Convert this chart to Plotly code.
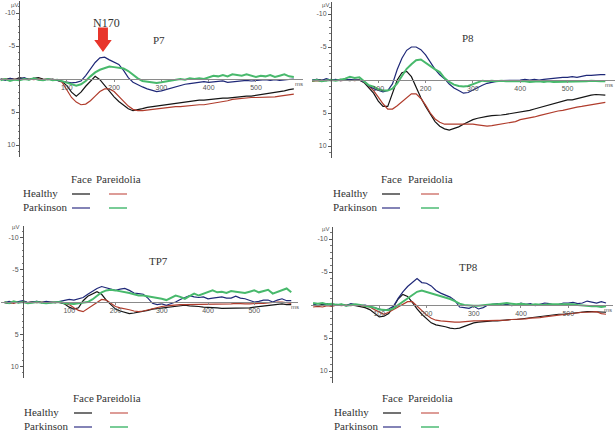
import plotly.graph_objects as go

# ---------------- data (µV, negative plotted upward) ----------------
TIME_MS = [-40, -30, -20, -10, 0, 10, 20, 30, 40, 50,
           60, 70, 80, 90, 100, 110, 120, 130, 140, 150,
           160, 170, 180, 190, 200, 210, 220, 230, 240, 250,
           260, 270, 280, 290, 300, 310, 320, 330, 340, 350,
           360, 370, 380, 390, 400, 410, 420, 430, 440, 450,
           460, 470, 480, 490, 500, 510, 520, 530, 540, 550,
           560, 570, 580]

SERIES_NAMES = ["Healthy Face", "Healthy Pareidolia", "Parkinson Face", "Parkinson Pareidolia"]
GROUPS = ["Healthy", "Parkinson"]
CONDITIONS = ["Face", "Pareidolia"]
PANEL_TITLES = ["P7", "P8", "TP7", "TP8"]
Y_TICKS = [-10, -5, 5, 10]
X_TICKS = [100, 200, 300, 400, 500]

P7_HEALTHY_FACE = [0.0, 0.1, -0.1, 0.1, -0.2, 0.0, 0.1, -0.1, -0.2, 0.0,
                   0.1, 0.0, 0.2, 0.4, 1.0, 2.0, 2.6, 2.0, 1.1, 0.3,
                   -0.4, 0.1, 1.0, 1.9, 2.7, 3.4, 4.0, 4.5, 4.8, 4.7,
                   4.5, 4.3, 4.2, 4.0, 3.9, 3.8, 3.7, 3.6, 3.5, 3.4,
                   3.3, 3.3, 3.2, 3.2, 3.1, 3.1, 3.0, 2.9, 2.9, 2.8,
                   2.7, 2.7, 2.6, 2.6, 2.5, 2.4, 2.3, 2.2, 2.1, 1.9,
                   1.8, 1.6, 1.5]
P7_HEALTHY_PAREIDOLIA = [0.1, 0.0, 0.1, 0.0, 0.1, -0.1, 0.0, 0.1, 0.0, 0.1,
                         0.0, 0.1, 0.2, 0.5, 1.6, 2.8, 3.5, 3.9, 3.8, 3.3,
                         2.6, 1.9, 1.5, 1.5, 1.9, 2.6, 3.4, 4.1, 4.6, 4.8,
                         4.8, 4.7, 4.6, 4.5, 4.4, 4.3, 4.3, 4.2, 4.2, 4.1,
                         4.0, 4.0, 3.9, 3.9, 3.8, 3.7, 3.6, 3.4, 3.3, 3.1,
                         3.0, 2.9, 2.9, 2.8, 2.8, 2.8, 2.8, 2.7, 2.7, 2.6,
                         2.5, 2.4, 2.3]
P7_PARKINSON_FACE = [0.0, 0.2, -0.1, 0.1, 0.0, -0.2, 0.1, -0.1, 0.1, 0.2,
                     0.0, 0.1, 0.2, 0.3, 0.5, 0.6, 0.5, 0.3, -0.5, -1.5,
                     -2.5, -3.2, -3.3, -2.9, -2.5, -2.2, -1.3, -0.2, 0.5, 0.9,
                     1.2, 1.5, 1.7, 1.9, 1.8, 1.6, 1.3, 1.1, 1.0, 0.8,
                     0.7, 0.6, 0.5, 0.4, 0.5, 0.4, 0.4, 0.3, 0.5, 0.4,
                     0.3, 0.3, 0.2, 0.3, 0.2, 0.2, 0.1, 0.2, 0.1, 0.2,
                     0.1, 0.0, 0.0]
P7_PARKINSON_PAREIDOLIA = [0.2, 0.0, 0.3, 0.1, 0.2, 0.0, 0.1, -0.1, 0.1, 0.2,
                           0.0, 0.2, 0.1, 0.3, 0.5, 0.7, 1.0, 0.8, 0.3, -0.4,
                           -1.0, -1.4, -1.7, -1.9, -1.8, -1.7, -1.6, -1.2, -0.6, -0.1,
                           0.3, 0.4, 0.5, 0.6, 0.5, 0.4, 0.3, 0.2, 0.0, 0.1,
                           -0.1, 0.0, -0.1, 0.0, -0.3, -0.5, -0.4, -0.6, -0.4, -0.7,
                           -0.6, -0.5, -0.7, -0.5, -0.3, -0.5, -0.4, -0.6, -0.3, -0.5,
                           -0.7, -0.4, -0.3]

P8_HEALTHY_FACE = [0.1, -0.1, 0.0, 0.1, -0.1, 0.0, -0.1, 0.0, 0.1, 0.0,
                   0.0, 0.4, 1.2, 2.0, 3.2, 4.0, 4.0, 2.0, 0.0, -1.1,
                   -1.3, -0.5, 1.2, 2.7, 4.0, 5.2, 6.3, 7.0, 7.4, 7.6,
                   7.4, 7.1, 6.7, 6.3, 6.0, 5.8, 5.6, 5.5, 5.4, 5.4,
                   5.3, 5.2, 5.1, 5.0, 4.9, 4.8, 4.6, 4.4, 4.2, 4.0,
                   3.7, 3.5, 3.3, 3.2, 3.0, 3.0, 2.8, 2.6, 2.4, 2.3,
                   2.2, 2.3, 2.3]
P8_HEALTHY_PAREIDOLIA = [0.2, 0.1, 0.2, 0.0, 0.1, 0.0, 0.1, 0.0, 0.0, 0.1,
                         0.0, 0.3, 0.9, 1.6, 2.6, 3.6, 4.4, 4.4, 3.9, 3.3,
                         2.6, 2.1, 2.1, 2.8, 3.8, 5.0, 5.9, 6.4, 6.7, 6.7,
                         6.7, 6.6, 6.7, 6.6, 6.7, 6.8, 6.9, 7.0, 6.9, 6.8,
                         6.6, 6.5, 6.4, 6.3, 6.0, 5.9, 5.8, 5.6, 5.4, 5.2,
                         5.0, 4.9, 4.7, 4.6, 4.4, 4.3, 4.1, 4.0, 3.9, 3.8,
                         3.6, 3.5, 3.4]
P8_PARKINSON_FACE = [0.0, -0.1, 0.1, -0.2, 0.0, -0.1, 0.1, 0.0, -0.1, 0.0,
                     0.0, 0.3, 0.9, 1.3, 1.6, 1.8, 1.6, 0.6, -1.6, -3.3,
                     -4.5, -5.0, -5.0, -4.6, -3.8, -2.7, -1.6, -0.8, -0.2, 0.6,
                     1.2, 1.6, 2.0, 1.9, 1.5, 1.1, 0.8, 0.5, 0.3, 0.2,
                     0.1, 0.1, 0.0, 0.1, 0.0, -0.1, 0.0, -0.1, 0.0, -0.1,
                     -0.2, -0.3, -0.3, -0.4, -0.4, -0.5, -0.4, -0.6, -0.7, -0.7,
                     -0.8, -0.8, -0.8]
P8_PARKINSON_PAREIDOLIA = [0.1, 0.0, 0.2, 0.1, 0.0, 0.1, 0.0, -0.2, -0.5, -0.3,
                           -0.4, 0.2, 0.8, 1.0, 1.4, 1.6, 1.6, 1.3, 0.5, -0.6,
                           -1.7, -2.4, -3.0, -3.1, -2.6, -2.0, -1.6, -1.2, -0.3, 0.3,
                           0.7, 0.9, 1.0, 0.9, 0.6, 0.4, 0.1, 0.2, 0.1, 0.2,
                           0.1, 0.2, 0.2, 0.1, 0.2, 0.2, 0.3, 0.2, 0.2, 0.3,
                           0.2, 0.3, 0.3, 0.2, 0.3, 0.2, 0.3, 0.2, 0.2, 0.1,
                           0.2, 0.2, 0.2]

TP7_HEALTHY_FACE = [0.1, 0.2, 0.0, 0.1, -0.1, 0.1, 0.0, -0.1, 0.1, 0.0,
                    0.1, 0.0, 0.1, 0.3, 0.8, 1.1, 0.9, -0.2, -0.9, -1.3,
                    -1.6, -1.2, -0.3, 0.4, 1.1, 1.4, 1.6, 1.8, 1.7, 1.6,
                    1.4, 1.3, 1.1, 1.0, 0.9, 0.8, 0.7, 0.6, 0.5, 0.5,
                    0.6, 0.6, 0.7, 0.8, 0.8, 0.9, 0.9, 1.0, 1.0, 1.0,
                    1.0, 0.9, 0.9, 0.9, 0.8, 0.7, 0.7, 0.6, 0.5, 0.4,
                    0.3, 0.4, 0.4]
TP7_HEALTHY_PAREIDOLIA = [0.0, 0.1, 0.2, 0.0, 0.1, 0.1, 0.0, 0.1, 0.0, 0.1,
                          0.0, 0.1, 0.0, 0.2, 0.4, 0.9, 1.3, 1.5, 1.0, 0.5,
                          0.1, -0.4, -0.3, 0.2, 0.7, 0.9, 1.0, 1.2, 1.4, 1.5,
                          1.4, 1.2, 1.0, 0.8, 0.7, 0.6, 0.5, 0.5, 0.4, 0.4,
                          0.4, 0.4, 0.4, 0.3, 0.4, 0.4, 0.4, 0.3, 0.3, 0.3,
                          0.2, 0.3, 0.3, 0.3, 0.2, 0.2, 0.2, 0.1, 0.1, 0.0,
                          0.0, 0.1, 0.2]
TP7_PARKINSON_FACE = [0.1, -0.1, 0.1, 0.0, -0.2, 0.1, 0.0, -0.1, 0.1, -0.1,
                      0.0, 0.1, -0.1, -0.3, -0.4, -0.3, -0.5, -0.7, -1.2, -1.7,
                      -2.1, -2.4, -2.2, -2.0, -1.8, -2.0, -2.1, -1.8, -1.4, -1.3,
                      -1.2, -0.6, 0.2, 0.4, 0.3, 0.5, 0.3, 0.0, -0.4, -0.7,
                      -1.0, -0.8, -0.7, -0.8, -0.5, -0.6, -0.7, -0.8, -0.6, -0.6,
                      -0.9, -0.6, -0.5, -0.3, 0.0, -0.1, -0.3, -0.3, 0.0, -0.3,
                      -0.5, -0.2, -0.2]
TP7_PARKINSON_PAREIDOLIA = [0.0, 0.2, -0.1, 0.1, 0.0, 0.2, 0.1, 0.0, 0.1, 0.2,
                            0.1, 0.0, 0.0, 0.2, 0.3, 0.3, 0.2, 0.1, 0.0, -0.4,
                            -1.0, -1.5, -1.8, -1.9, -1.8, -1.7, -1.6, -1.4, -1.2, -1.0,
                            -1.0, -0.9, -0.7, -0.6, -0.5, -0.3, -0.6, -1.0, -0.8, -0.5,
                            -0.9, -1.3, -1.0, -1.3, -1.6, -1.8, -1.5, -1.6, -1.4, -1.7,
                            -1.6, -1.5, -1.4, -1.6, -1.8, -1.5, -1.7, -1.9, -1.3, -1.6,
                            -1.8, -2.1, -1.5]

TP8_HEALTHY_FACE = [0.0, 0.1, -0.1, 0.0, 0.1, 0.0, -0.1, 0.1, 0.0, 0.1,
                    0.2, 0.4, 0.7, 1.3, 1.8, 1.7, 1.3, 0.3, -0.9, -1.6,
                    -1.3, -0.4, 0.6, 1.4, 2.1, 2.7, 3.0, 3.1, 3.3, 3.5,
                    3.6, 3.5, 3.2, 2.9, 2.7, 2.6, 2.5, 2.5, 2.4, 2.4,
                    2.3, 2.3, 2.2, 2.2, 2.1, 2.0, 2.0, 1.9, 1.8, 1.7,
                    1.6, 1.5, 1.4, 1.4, 1.3, 1.3, 1.2, 1.1, 1.0, 1.0,
                    1.0, 1.1, 1.1]
TP8_HEALTHY_PAREIDOLIA = [0.3, 0.2, 0.3, 0.1, 0.2, 0.0, 0.1, 0.0, 0.1, 0.0,
                          0.1, 0.2, 0.3, 0.7, 1.1, 1.4, 1.1, 0.7, 0.2, -0.2,
                          -0.5, -0.5, 0.2, 0.9, 1.5, 2.0, 2.3, 2.4, 2.5, 2.5,
                          2.6, 2.6, 2.5, 2.5, 2.4, 2.4, 2.4, 2.4, 2.4, 2.4,
                          2.3, 2.3, 2.2, 2.2, 2.1, 2.1, 2.0, 2.0, 1.9, 1.8,
                          1.7, 1.6, 1.5, 1.5, 1.4, 1.3, 1.2, 1.1, 1.1, 1.0,
                          1.0, 1.3, 1.4]
TP8_PARKINSON_FACE = [-0.2, 0.1, 0.0, -0.2, 0.1, -0.1, 0.0, 0.1, -0.2, 0.0,
                      0.1, 0.0, 0.2, 0.4, 0.7, 0.8, 0.6, 0.2, -1.0, -2.0,
                      -2.8, -3.4, -4.0, -3.4, -3.3, -2.9, -2.2, -1.8, -1.5, -1.2,
                      -0.7, 0.3, 0.4, 0.5, 0.2, 0.6, 0.4, 0.0, -0.1, -0.2,
                      0.0, -0.1, 0.1, 0.0, -0.3, -0.1, -0.2, 0.1, -0.1, -0.3,
                      -0.2, 0.0, -0.1, -0.3, -0.3, -0.4, -0.2, -0.3, -0.6, -0.4,
                      -0.3, -0.5, -0.3]
TP8_PARKINSON_PAREIDOLIA = [-0.3, -0.2, -0.3, -0.1, -0.2, 0.0, -0.1, 0.1, 0.0, -0.1,
                            0.0, 0.1, 0.2, 0.4, 0.7, 0.8, 0.8, 0.5, 0.0, -0.6,
                            -1.1, -1.6, -2.0, -2.2, -2.0, -1.8, -1.6, -1.4, -1.2, -0.9,
                            -0.6, -0.2, 0.0, 0.1, 0.1, 0.1, 0.0, 0.0, -0.1, -0.1,
                            -0.2, -0.3, -0.2, -0.1, -0.2, -0.1, 0.0, -0.1, 0.0, 0.0,
                            -0.1, -0.1, -0.2, -0.1, -0.2, -0.1, 0.0, 0.1, 0.1, 0.2,
                            0.2, 0.3, 0.2]

# ---------------- styling / layout ----------------
W, H = 615, 431
COLORS = ["#151515", "#b03c2c", "#1f2878", "#48b96c"]
WIDTHS = [1.2, 1.2, 1.2, 2.0]
LEGEND_COLORS = ["#444444", "#d27b74", "#5a5a9e", "#4cbb74"]
SERIF = "Liberation Serif, Times New Roman, serif"
SANS = "Liberation Sans, Arial, sans-serif"
Y_HALF = 11.8


def px(x):
    return x / W


def py(y):
    return 1 - y / H


PANELS = [
    dict(data=[P7_HEALTHY_FACE, P7_HEALTHY_PAREIDOLIA, P7_PARKINSON_FACE, P7_PARKINSON_PAREIDOLIA],
         xr=[-41, 600], left=0.1, sx=0.473, zero=79, sy=6.6, title=(159, 40),
         leg=(21, 179), cols=(72, 109), ms=(299, 84), uv=(14, 5)),
    dict(data=[P8_HEALTHY_FACE, P8_HEALTHY_PAREIDOLIA, P8_PARKINSON_FACE, P8_PARKINSON_PAREIDOLIA],
         xr=[-41, 600], left=311.6, sx=0.473, zero=80, sy=6.6, title=(468, 38),
         leg=(331, 179), cols=(382, 421), ms=(609, 85), uv=(325, 5)),
    dict(data=[TP7_HEALTHY_FACE, TP7_HEALTHY_PAREIDOLIA, TP7_PARKINSON_FACE, TP7_PARKINSON_PAREIDOLIA],
         xr=[-48, 595], left=0.8, sx=0.4625, zero=302, sy=6.45, title=(158, 261),
         leg=(22, 398), cols=(74, 110), ms=(295, 307), uv=(15, 227)),
    dict(data=[TP8_HEALTHY_FACE, TP8_HEALTHY_PAREIDOLIA, TP8_PARKINSON_FACE, TP8_PARKINSON_PAREIDOLIA],
         xr=[-44, 595], left=311.2, sx=0.4725, zero=305, sy=6.6, title=(468, 267),
         leg=(332, 398), cols=(383, 421), ms=(608, 310), uv=(325, 229)),
]

fig = go.Figure()
layout = dict(width=W, height=H, margin=dict(l=0, r=0, t=0, b=0),
              paper_bgcolor="white", plot_bgcolor="rgba(0,0,0,0)",
              showlegend=False, font=dict(family=SANS))
annotations = []
shapes = []


def label(x, y, text, size, family=SANS, color="#333", xanchor="center"):
    return dict(x=px(x), y=py(y), xref="paper", yref="paper", text=text,
                showarrow=False, xanchor=xanchor, yanchor="middle",
                font=dict(family=family, size=size, color=color))


for i, p in enumerate(PANELS):
    k = "" if i == 0 else str(i + 1)
    xa, ya = "x" + k, "y" + k
    for s in range(4):
        fig.add_trace(go.Scatter(x=TIME_MS, y=p["data"][s], mode="lines",
                                 name=SERIES_NAMES[s], xaxis=xa, yaxis=ya,
                                 line=dict(color=COLORS[s], width=WIDTHS[s])))
    x0 = p["left"]
    x1 = x0 + (p["xr"][1] - p["xr"][0]) * p["sx"]
    y_top = p["zero"] - Y_HALF * p["sy"]
    y_bot = p["zero"] + Y_HALF * p["sy"]
    axis_px = x0 + (0 - p["xr"][0]) * p["sx"]

    layout["xaxis" + k] = dict(domain=[px(x0), px(x1)], range=p["xr"], anchor="free",
                               position=py(p["zero"]), showgrid=False, zeroline=False,
                               showline=True, linecolor="#8a8a8a", linewidth=1,
                               tickvals=X_TICKS, ticks="outside", ticklen=2,
                               tickcolor="#8a8a8a", tickfont=dict(size=7, color="#555"))
    layout["yaxis" + k] = dict(domain=[py(y_bot), py(y_top)], range=[Y_HALF, -Y_HALF],
                               anchor="free", position=px(axis_px), showgrid=False,
                               zeroline=False, showline=True, linecolor="#555",
                               linewidth=1, tickvals=Y_TICKS,
                               ticktext=["-10", "-5", "5", "10"], ticks="outside",
                               ticklen=3, tickcolor="#555",
                               tickfont=dict(size=7, color="#555"),
                               minor=dict(dtick=1, ticks="outside", ticklen=1.5,
                                          tickcolor="#777", showgrid=False))

    annotations.append(label(p["title"][0], p["title"][1], PANEL_TITLES[i], 11, SERIF))
    annotations.append(label(p["uv"][0], p["uv"][1], "µV", 6, SANS, "#555"))
    annotations.append(label(p["ms"][0], p["ms"][1], "ms", 6, SANS, "#555"))

    lx, ly = p["leg"]
    cf, cp = p["cols"]
    annotations.append(label(cf + 9, ly, CONDITIONS[0], 11, SERIF))
    annotations.append(label(cp + 9, ly, CONDITIONS[1], 11, SERIF))
    for r in range(2):
        yy = ly + 14 * (r + 1)
        annotations.append(label(lx, yy, GROUPS[r], 11, SERIF, xanchor="left"))
        for c, cx in enumerate((cf, cp)):
            shapes.append(dict(type="line", xref="paper", yref="paper",
                               x0=px(cx), x1=px(cx + 18), y0=py(yy + 1), y1=py(yy + 1),
                               line=dict(color=LEGEND_COLORS[2 * r + c], width=1.5)))

# N170 marker (decorative block arrow on the P7 panel)
annotations.append(label(106, 23, "N170", 12, SERIF))
shapes.append(dict(type="path", xref="x", yref="y",
                   path="M 166,-7.8 L 187,-7.8 L 187,-5.9 L 195,-5.9 L 176.5,-4.1 "
                        "L 158,-5.9 L 166,-5.9 Z",
                   fillcolor="#e8352b", line=dict(width=0)))

layout["annotations"] = annotations
layout["shapes"] = shapes
fig.update_layout(**layout)
fig.write_html("out.html", config={"displayModeBar": False},
               post_script="document.body.style.margin='0px';")
